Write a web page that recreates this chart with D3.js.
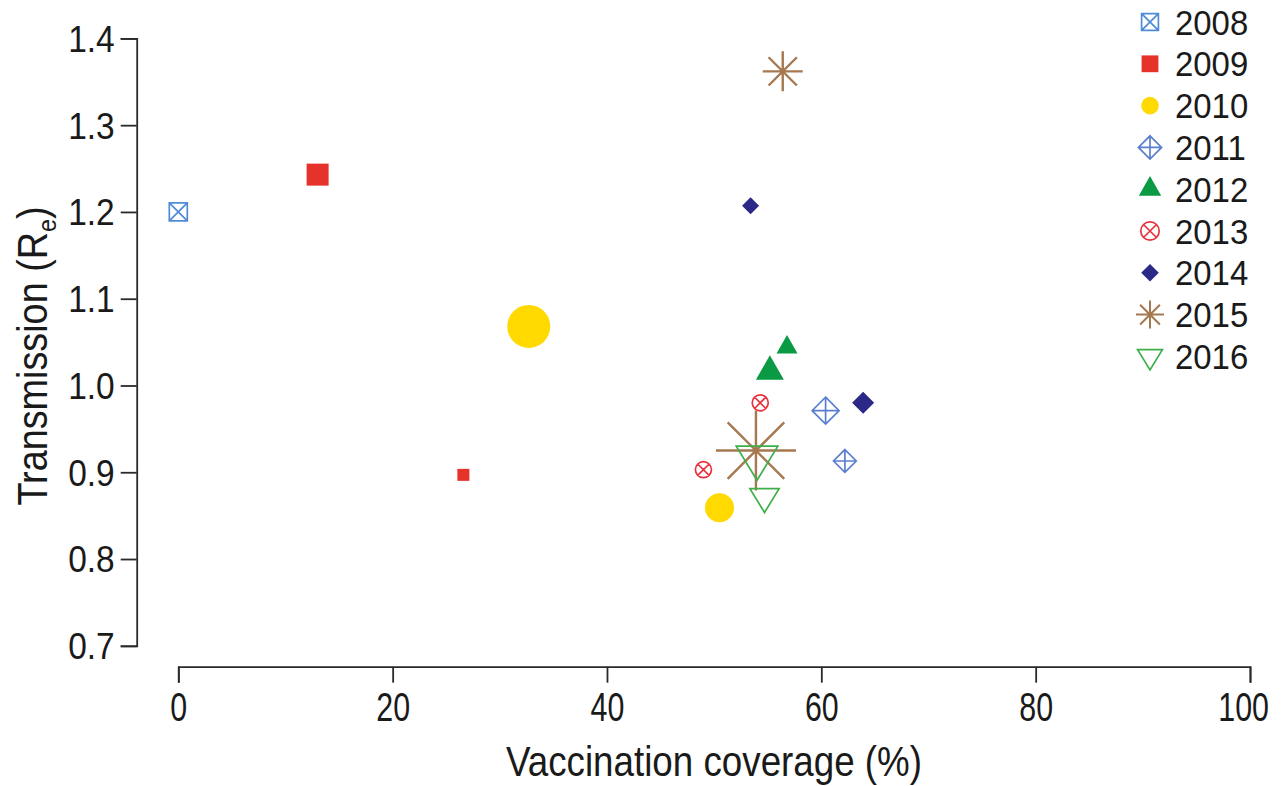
<!DOCTYPE html>
<html><head><meta charset="utf-8">
<script src="https://cdn.jsdelivr.net/npm/d3@7"></script>
<style>
body{margin:0;background:#fff}
text{font-family:'Liberation Sans',Arial,sans-serif;fill:#1a1a1a}
</style>
</head><body>
<svg id="chart" width="1287" height="786"></svg>
<script>
// ---- data ----
const years = ["2008","2009","2010","2011","2012","2013","2014","2015","2016"];
const coverage = [[0.0],[13.0,26.6],[32.7,50.5],[60.4,62.2],[55.2,56.8],[54.3,49.0],[53.4,63.9],[53.9,56.4],[54.0,54.7]];
const transmission = [[1.200],[1.243,0.897],[1.068,0.859],[0.971,0.913],[1.016,1.044],[0.980,0.903],[1.207,0.980],[0.925,1.362],[0.917,0.872]];
const markerWeight = [[4.5],[5.5,3.0],[10.75,7.25],[6.75,5.7],[7.0,5.25],[4.0,4.0],[4.25,5.5],[20,10],[10.4,7.3]];
const legendWeight = [4.2,4.2,4.4,5.8,5.6,4.6,4.4,7.0,6.2];
const xTicks = [0,20,40,60,80,100];
const yTicks = [0.7,0.8,0.9,1.0,1.1,1.2,1.3,1.4];
const colors = ["#4f8bd8","#e5322b","#ffd900","#5b7fd0","#0a9a44","#e8333e","#2b2887","#a67850","#3caf48"];
const shapes = ["boxX","square","circle","diamondCross","triangleUp","circleX","diamond","asterisk","triangleDown"];
const xTitle = "Vaccination coverage (%)";
const yTitle = "Transmission (R";
const ySub = "e";

// ---- scales ----
const svg = d3.select("#chart");
const x = d3.scaleLinear().domain([0,100]).range([178.3,1250]);
const y = d3.scaleLinear().domain([0.7,1.4]).range([645.8,38.4]);
const sz = d3.scaleLinear().domain([0,10]).range([0,40]);
const filled = new Set(["square","circle","triangleUp","diamond"]);

function condense(sel, k){
  sel.each(function(){
    const w = this.getComputedTextLength();
    d3.select(this).attr("textLength", w*k).attr("lengthAdjust","spacingAndGlyphs");
  });
}
function circ(r){return `M${r},0A${r},${r} 0 1 1 ${-r},0A${r},${r} 0 1 1 ${r},0Z`;}
function shapePath(type, s){
  const h = s/2;
  switch(type){
    case "boxX": return `M${-h},${-h}H${h}V${h}H${-h}Z M${-h},${-h}L${h},${h} M${h},${-h}L${-h},${h}`;
    case "square": return `M${-h},${-h}H${h}V${h}H${-h}Z`;
    case "circle": return circ(h);
    case "diamondCross": return `M0,${-h}L${h},0L0,${h}L${-h},0Z M${-h},0H${h} M0,${-h}V${h}`;
    case "triangleUp": { const H=s*0.88; return `M0,${-2*H/3}L${h},${H/3}L${-h},${H/3}Z`; }
    case "circleX": { const d=h*Math.SQRT1_2; return circ(h)+`M${-d},${-d}L${d},${d}M${d},${-d}L${-d},${d}`; }
    case "diamond": return `M0,${-h}L${h},0L0,${h}L${-h},0Z`;
    case "asterisk": { const d=h*Math.SQRT1_2; return `M${-h},0H${h}M0,${-h}V${h}M${-d},${-d}L${d},${d}M${d},${-d}L${-d},${d}`; }
    case "triangleDown": { const H=s*0.82; return `M${-h},${-H/3}L${h},${-H/3}L0,${2*H/3}Z`; }
  }
}
function styleMark(sel, i){
  const t = shapes[i];
  if(filled.has(t)) sel.attr("fill",colors[i]).attr("stroke","none");
  else sel.attr("fill","none").attr("stroke",colors[i])
          .attr("stroke-width", t==="asterisk"?2.4:1.7).attr("stroke-linejoin","miter");
}

// ---- axes ----
const yAxis = svg.append("g").attr("transform","translate(136.7,0)")
  .call(d3.axisLeft(y).tickValues(yTicks).tickFormat(d3.format(".1f")).tickSize(16).tickSizeOuter(16).tickPadding(6));
const xAxis = svg.append("g").attr("transform","translate(0,666.7)")
  .call(d3.axisBottom(x).tickValues(xTicks).tickFormat(d3.format("d")).tickSize(16).tickSizeOuter(16).tickPadding(10));
[yAxis,xAxis].forEach(g=>{
  g.attr("font-family",null).attr("font-size",null);
  g.selectAll("path,line").attr("stroke","#2a2a2a").attr("stroke-width",1.8);
  g.selectAll("text").attr("fill","#1a1a1a");
});
yAxis.selectAll("text").style("font-size","36px").attr("dy","0.36em");
condense(yAxis.selectAll("text"), 0.93);
xAxis.selectAll("text").style("font-size","40px").attr("transform","scale(0.76,1)");
xAxis.selectAll(".tick").filter(d=>d===100).select("text").attr("x",-9);

// titles
const xt = svg.append("text").attr("x",714).attr("y",776).attr("text-anchor","middle")
  .style("font-size","42px").text(xTitle);
condense(xt, 0.875);
const yt = svg.append("text").attr("transform","translate(47,356) rotate(-90) scale(0.9,1)")
  .attr("text-anchor","middle").style("font-size","42px");
yt.append("tspan").text(yTitle);
yt.append("tspan").attr("dy","9").style("font-size","26px").text(ySub);
yt.append("tspan").attr("dy","-9").text(")");

// ---- marks ----
years.forEach((yr,i)=>{
  const g = svg.append("g").attr("class","series-"+yr);
  coverage[i].forEach((cv,j)=>{
    const p = g.append("path")
      .attr("transform",`translate(${x(cv)},${y(transmission[i][j])})`)
      .attr("d", shapePath(shapes[i], sz(markerWeight[i][j])));
    styleMark(p,i);
    if(shapes[i]==="asterisk"){
      g.append("circle").attr("cx",x(cv)).attr("cy",y(transmission[i][j])).attr("r",2.2).attr("fill",colors[i]);
    }
  });
});

// ---- legend ----
const leg = svg.append("g").attr("class","legend");
years.forEach((yr,i)=>{
  const cy = 22 + i*41.8;
  const p = leg.append("path").attr("transform",`translate(1150,${cy})`)
    .attr("d", shapePath(shapes[i], sz(legendWeight[i])));
  styleMark(p,i);
  if(shapes[i]==="asterisk") p.attr("stroke-width",2);
  const t = leg.append("text").attr("x",1175).attr("y",cy).attr("dy","0.36em")
    .style("font-size","35px").text(yr);
  condense(t, 0.94);
});
</script>
</body></html>
